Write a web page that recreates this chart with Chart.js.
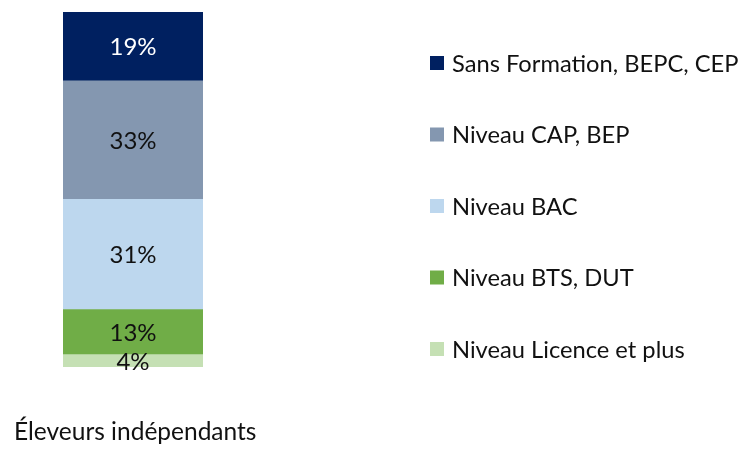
<!DOCTYPE html>
<html>
<head>
<meta charset="utf-8">
<script src="https://cdn.jsdelivr.net/npm/chart.js@4/dist/chart.umd.min.js"></script>
<style>
  html, body { margin: 0; padding: 0; background: #fff; }
  #wrap { position: relative; width: 744px; height: 450px; }
</style>
</head>
<body>
<div id="wrap"><canvas id="barChart"></canvas></div>
<script>
// catégorie unique
var categories = ["Éleveurs indépendants"];
// séries, du bas vers le haut de la barre
var seriesLabels = [
  "Niveau Licence et plus",
  "Niveau BTS, DUT",
  "Niveau BAC",
  "Niveau CAP, BEP",
  "Sans Formation, BEPC, CEP"
];
var seriesValues = [3.5, 12.7, 31, 33.4, 19.4];
var seriesColors = ["#C5E0B4", "#70AD47", "#BDD7EE", "#8497B0", "#002060"];
var labelColors = ["#111", "#111", "#111", "#111", "#fff"];

var datasets = seriesLabels.map(function (lab, i) {
  return {
    label: lab,
    data: [seriesValues[i]],
    backgroundColor: seriesColors[i],
    borderWidth: 0,
    barPercentage: 1,
    categoryPercentage: 1
  };
});

// étiquettes de valeur au centre de chaque segment
var valueLabels = {
  id: 'valueLabels',
  afterDatasetsDraw: function (chart) {
    var ctx = chart.ctx;
    ctx.save();
    ctx.font = '24px Lato';
    ctx.textAlign = 'center';
    ctx.textBaseline = 'middle';
    chart.data.datasets.forEach(function (ds, i) {
      var bar = chart.getDatasetMeta(i).data[0];
      var mid = (bar.y + bar.base) / 2;
      ctx.fillStyle = labelColors[i];
      ctx.fillText(Math.round(ds.data[0]) + '%', bar.x, mid + 1);
    });
    ctx.restore();
  }
};

// légende à droite (du haut vers le bas) + libellé de catégorie
var sideLegend = {
  id: 'sideLegend',
  afterDraw: function (chart) {
    var ctx = chart.ctx;
    ctx.save();
    ctx.font = '23.7px Lato';
    ctx.textBaseline = 'middle';
    var n = chart.data.datasets.length;
    for (var k = 0; k < n; k++) {
      var i = n - 1 - k;
      var y = 63 + k * 71.5;
      ctx.fillStyle = seriesColors[i];
      ctx.fillRect(430, y - 7, 14, 14);
      ctx.fillStyle = '#111';
      ctx.fillText(chart.data.datasets[i].label, 452, y + 1);
    }
    ctx.font = '24.5px Lato';
    ctx.fillStyle = '#111';
    ctx.fillText(chart.data.labels[0], 14, 432);
    ctx.restore();
  }
};

var ctx = document.getElementById("barChart");
var myChart = new Chart(ctx, {
  type: 'bar',
  data: {
    labels: categories,
    datasets: datasets
  },
  options: {
    responsive: true,
    maintainAspectRatio: false,
    animation: false,
    layout: {
      padding: { left: 63, right: 541, top: 12, bottom: 83 }
    },
    scales: {
      x: { stacked: true, display: false },
      y: { stacked: true, display: false, min: 0, max: 100 }
    },
    plugins: {
      legend: { display: false },
      tooltip: { enabled: false }
    }
  },
  plugins: [valueLabels, sideLegend]
});
</script>
</body>
</html>
